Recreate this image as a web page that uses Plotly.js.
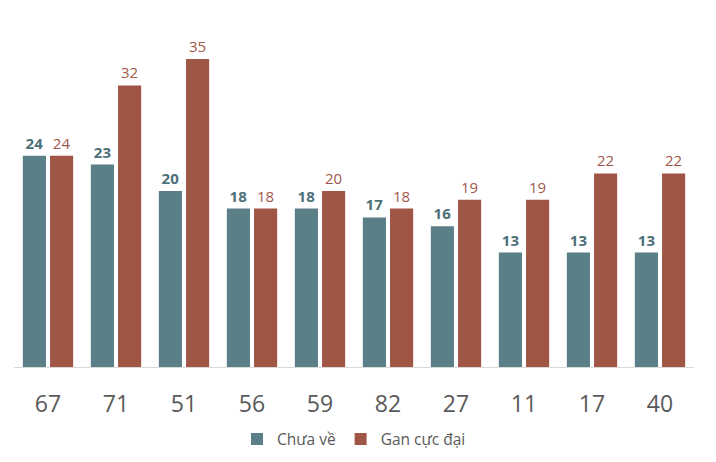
<!DOCTYPE html>
<html><head><meta charset="utf-8">
<script src="https://cdn.plot.ly/plotly-3.0.1.min.js"></script>
<style>html,body{margin:0;padding:0;background:#fff;}#chart{width:716px;height:462px;}</style>
</head><body><div id="chart"></div>
<script>
const categories = ["67","71","51","56","59","82","27","11","17","40"];
const chuaVe = [24,23,20,18,18,17,16,13,13,13];
const ganCucDai = [24,32,35,18,20,18,19,19,22,22];
const seriesNames = ["Chưa về","Gan cực đại"];

const font = '"Open Sans", "Noto Sans", sans-serif';
const traces = [
  {type:'bar', name:seriesNames[0], x:categories, y:chuaVe, marker:{color:'#5a7f87'},
   text:chuaVe.map(String), textposition:'outside', cliponaxis:false,
   textfont:{family:font, size:15, color:'#4d6f78', weight:'bold'}, hoverinfo:'none'},
  {type:'bar', name:seriesNames[1], x:categories, y:ganCucDai, marker:{color:'#a05645'},
   text:ganCucDai.map(String), textposition:'outside', cliponaxis:false,
   textfont:{family:font, size:15, color:'#a0574a'}, hoverinfo:'none'}
];
const layout = {
  width:716, height:462,
  margin:{l:14, r:22, t:15, b:95, autoexpand:false},
  paper_bgcolor:'#fff', plot_bgcolor:'#fff',
  barmode:'group', bargap:0.2, bargroupgap:0.15,
  font:{family:font},
  xaxis:{type:'category', showline:true, linecolor:'#d9d9d9', linewidth:1, ticks:'', automargin:false,
         tickfont:{size:23, color:'#595959', family:font}, ticklabelstandoff:16},
  yaxis:{range:[0,40], visible:false, showgrid:false, zeroline:false, automargin:false},
  showlegend:true,
  legend:{orientation:'h', x:0.5, xanchor:'center', xref:'paper', yref:'container', y:0.012, yanchor:'bottom',
          font:{size:15.5, color:'#595959', family:font}, itemwidth:30},
  uniformtext:{mode:false}
};
Plotly.newPlot('chart', traces, layout, {displayModeBar:false, staticPlot:true});
</script></body></html>
